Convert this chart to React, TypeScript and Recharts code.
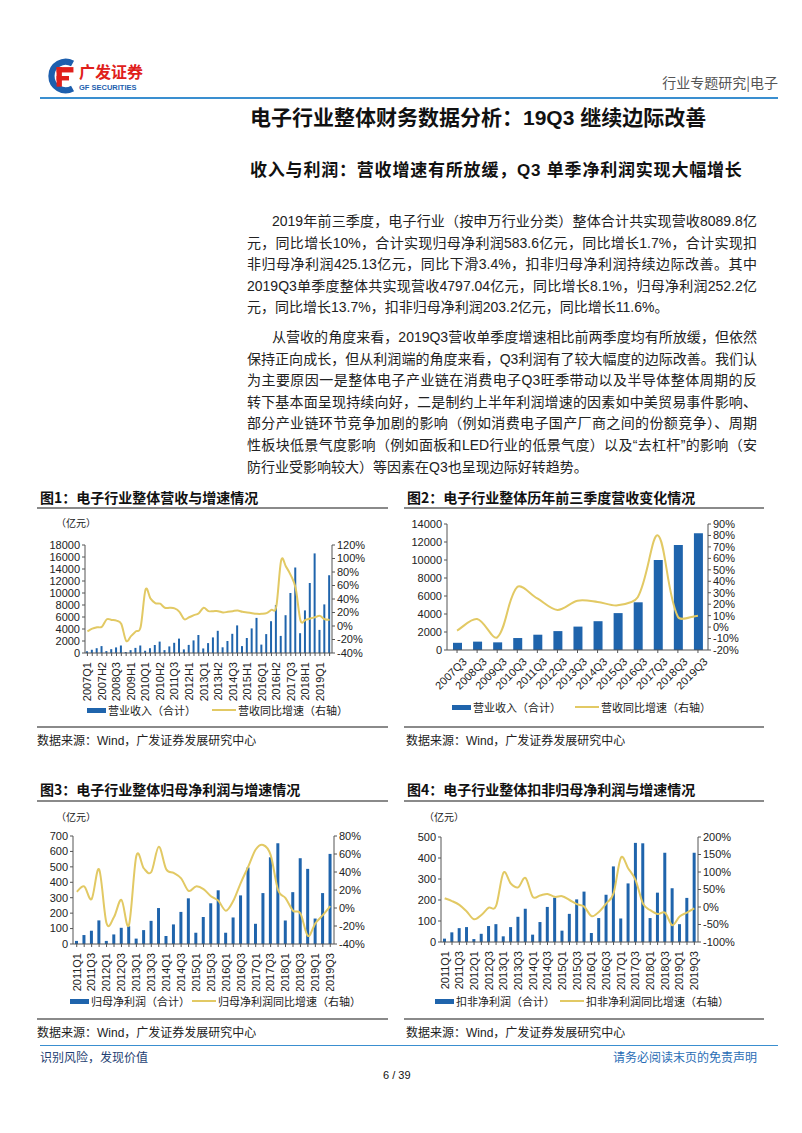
import React from "react";
import { ComposedChart, Bar, Line, XAxis, YAxis } from "recharts";

const NUM = '"Liberation Sans", Arial, "Noto Sans CJK SC", sans-serif';
const CJK = '"Noto Sans CJK SC", sans-serif';
const BLUE = "#1f64ac";
const GOLD = "#e2c964";
const AXIS = "#555";

// 图1 营业收入（亿元）与同比（%）
const revPeriods = [
  "2007Q1", "2007H1", "2007Q3", "2007H2", "2008Q1", "2008H1", "2008Q3", "2008H2",
  "2009Q1", "2009H1", "2009Q3", "2009H2", "2010Q1", "2010H1", "2010Q3", "2010H2",
  "2011Q1", "2011H1", "2011Q3", "2011H2", "2012Q1", "2012H1", "2012Q3", "2012H2",
  "2013Q1", "2013H1", "2013Q3", "2013H2", "2014Q1", "2014H1", "2014Q3", "2014H2",
  "2015Q1", "2015H1", "2015Q3", "2015H2", "2016Q1", "2016H1", "2016Q3", "2016H2",
  "2017Q1", "2017H1", "2017Q3", "2017H2", "2018Q1", "2018H1", "2018Q3", "2018H2",
  "2019Q1", "2019H1", "2019Q3",
];
const revValues = [
  280, 540, 800, 1150, 320, 640, 930, 1250, 170, 480, 850, 1250, 380, 800, 1330, 1900,
  480, 1100, 1700, 2400, 600, 1350, 2100, 3000, 760, 1650, 2600, 3700, 950, 2000, 3200, 4600,
  1150, 2500, 4100, 5850, 1400, 3150, 5300, 8000, 2850, 6300, 10000, 14250, 3300, 7100, 11670, 16600,
  3850, 8100, 12960,
];
const revYoy = [
  -8, -4, -2, -1, 10, 9, 8, 3, -22, -15, -8, -1, 54, 41, 34, 33,
  27, 27, 26, 21, 10, 13, 16, 19, 27, 22, 22, 22, 20, 21, 22, 23,
  21, 20, 19, 18, 18, 19, 24, 29, 97, 88, 75, 56, 8, 9, 11, 13,
  15, 10, 9,
];

// 图2 历年前三季度营收
const q3Periods = ["2007Q3", "2008Q3", "2009Q3", "2010Q3", "2011Q3", "2012Q3", "2013Q3", "2014Q3", "2015Q3", "2016Q3", "2017Q3", "2018Q3", "2019Q3"];
const q3Values = [800, 930, 850, 1330, 1700, 2100, 2600, 3200, 4100, 5300, 10000, 11670, 12960];
const q3Yoy = [-3, 7, -9, 35, 25, 15, 23, 22, 19, 26, 80, 9, 10];

// 图3 / 图4 季度
const quarters = [
  "2011Q1", "2011Q2", "2011Q3", "2011Q4", "2012Q1", "2012Q2", "2012Q3", "2012Q4",
  "2013Q1", "2013Q2", "2013Q3", "2013Q4", "2014Q1", "2014Q2", "2014Q3", "2014Q4",
  "2015Q1", "2015Q2", "2015Q3", "2015Q4", "2016Q1", "2016Q2", "2016Q3", "2016Q4",
  "2017Q1", "2017Q2", "2017Q3", "2017Q4", "2018Q1", "2018Q2", "2018Q3", "2018Q4",
  "2019Q1", "2019Q2", "2019Q3",
];
const npValues = [
  20, 58, 86, 153, 20, 62, 105, 115, 35, 90, 150, 233, 52, 127, 208, 296,
  73, 175, 264, 348, 73, 172, 315, 496, 131, 330, 562, 653, 153, 336, 556, 487,
  165, 330, 584,
];
const npYoy = [
  18, 24, 10, 43, -17, -10, 9, -19, 58, 44, 40, 68, 43, 39, 33, 19,
  24, 21, 13, 8, -3, 8, 28, 46, 65, 70, 59, 20, 11, -3, -6, -31,
  -17, -8, 2,
];
const dnpValues = [
  16, 46, 66, 71, 14, 39, 76, 85, 27, 71, 120, 158, 35, 95, 167, 211,
  54, 134, 203, 240, 43, 114, 225, 360, 112, 279, 472, 470, 114, 235, 425, 256,
  85, 210, 425,
];
const dnpYoy = [
  25, 17, 6, -13, -35, -23, -2, 3, 98, 67, 56, 83, 29, 33, 37, 29,
  31, 20, 8, 1, -26, -14, 10, 39, 141, 110, 77, 10, -9, -20, -16, -52,
  -27, -16, -4,
];

const rows = (cats: string[], v: number[], y: number[]) => cats.map((c, i) => ({ c, v: v[i], y: y[i] }));

// excel-like smoothed line (bezier through the points); weighted = tangents scaled by segment length
function makeSmooth(weighted: boolean) {
  return function (context: any) {
    let pts: number[][] = [];
    const dist = (a: number[], b: number[]) => Math.hypot(b[0] - a[0], b[1] - a[1]);
    return {
      areaStart() {},
      areaEnd() {},
      lineStart() { pts = []; },
      point(x: number, y: number) { pts.push([+x, +y]); },
      lineEnd() {
        if (!pts.length) return;
        context.moveTo(pts[0][0], pts[0][1]);
        for (let i = 0; i < pts.length - 1; i++) {
          const p0 = pts[i - 1] || pts[i];
          const p1 = pts[i];
          const p2 = pts[i + 1];
          const p3 = pts[i + 2] || p2;
          let a = 1 / 6, b = 1 / 6;
          if (weighted) {
            const d01 = dist(p0, p1), d12 = dist(p1, p2), d23 = dist(p2, p3);
            a = d01 + d12 > 0 ? d12 / (d01 + d12) / 3 : 0;
            b = d12 + d23 > 0 ? d12 / (d12 + d23) / 3 : 0;
          }
          context.bezierCurveTo(
            p1[0] + (p2[0] - p0[0]) * a, p1[1] + (p2[1] - p0[1]) * a,
            p2[0] - (p3[0] - p1[0]) * b, p2[1] - (p3[1] - p1[1]) * b,
            p2[0], p2[1]
          );
        }
      },
    };
  };
}

function VTick(props: any) {
  const { x, y, payload, index, every } = props;
  if (index % every !== 0) return null;
  return (
    <text x={x} y={y + 4} transform={`rotate(-90, ${x}, ${y + 4})`} textAnchor="end" dy="0.35em" fontSize={11} fill="#222" fontFamily={NUM}>
      {payload.value}
    </text>
  );
}

function DTick(props: any) {
  const { x, y, payload } = props;
  return (
    <text x={x + 5} y={y + 2} transform={`rotate(-45, ${x + 5}, ${y + 2})`} textAnchor="end" dy="0.7em" fontSize={11} fill="#222" fontFamily={NUM}>
      {payload.value}
    </text>
  );
}

const tickStyle = { fontSize: 11, fill: "#222", fontFamily: NUM };
const pct = (v: number) => `${v}%`;

function T({ x, y, size = 12, bold = false, color = "#222", children, font = CJK, style = {} }: any) {
  return (
    <div style={{ position: "absolute", left: x, top: y - size / 2 - 1, fontSize: size, lineHeight: `${size + 2}px`, fontWeight: bold ? 700 : 400, color, whiteSpace: "nowrap", fontFamily: font, ...style }}>
      {children}
    </div>
  );
}

function HLine({ x1, x2, y, color = "#8a8a8a", w = 1.5 }: any) {
  return <div style={{ position: "absolute", left: x1, top: y, width: x2 - x1, height: w, background: color }} />;
}

function LegendRow({ y, barX, barText, lineX, lineText }: any) {
  return (
    <>
      <div style={{ position: "absolute", left: barX, top: y - 2, width: 19, height: 5, background: BLUE }} />
      <T x={barX + 21} y={y} size={11}>{barText}</T>
      <div style={{ position: "absolute", left: lineX, top: y - 1, width: 24, height: 2, background: GOLD }} />
      <T x={lineX + 26} y={y} size={11}>{lineText}</T>
    </>
  );
}

function Para({ lines, top }: { lines: string[]; top: number }) {
  return (
    <>
      {lines.map((l, i) => {
        const first = i === 0;
        const last = i === lines.length - 1;
        return (
          <div key={i} style={{ position: "absolute", left: first ? 272 : 247, top: top + i * 21.6 - 10, width: first ? 485 : 510, fontSize: 14, lineHeight: "20px", fontFamily: NUM, color: "#222", textAlign: "justify", textAlignLast: last ? "left" : "justify", whiteSpace: "nowrap" as any }}>
            {l}
          </div>
        );
      })}
    </>
  );
}

const para1 = [
  "2019年前三季度，电子行业（按申万行业分类）整体合计共实现营收8089.8亿",
  "元，同比增长10%，合计实现归母净利润583.6亿元，同比增长1.7%，合计实现扣",
  "非归母净利润425.13亿元，同比下滑3.4%，扣非归母净利润持续边际改善。其中",
  "2019Q3单季度整体共实现营收4797.04亿元，同比增长8.1%，归母净利润252.2亿",
  "元，同比增长13.7%，扣非归母净利润203.2亿元，同比增长11.6%。",
];
const para2 = [
  "从营收的角度来看，2019Q3营收单季度增速相比前两季度均有所放缓，但依然",
  "保持正向成长，但从利润端的角度来看，Q3利润有了较大幅度的边际改善。我们认",
  "为主要原因一是整体电子产业链在消费电子Q3旺季带动以及半导体整体周期的反",
  "转下基本面呈现持续向好，二是制约上半年利润增速的因素如中美贸易事件影响、",
  "部分产业链环节竞争加剧的影响（例如消费电子国产厂商之间的份额竞争）、周期",
  "性板块低景气度影响（例如面板和LED行业的低景气度）以及“去杠杆”的影响（安",
  "防行业受影响较大）等因素在Q3也呈现边际好转趋势。",
];

function DualChart({ left, top, width, height, data, lw, rw, xh, every, ld, lt, rd, rt, barSize, rotate45, weighted = false }: any) {
  return (
    <div style={{ position: "absolute", left, top }}>
      <ComposedChart width={width} height={height} data={data} margin={{ top: 10, right: 0, bottom: 0, left: 0 }} barCategoryGap="0%">
        <XAxis
          dataKey="c"
          interval={0}
          height={xh}
          tickSize={3}
          axisLine={{ stroke: AXIS }}
          tickLine={{ stroke: AXIS }}
          tick={rotate45 ? (p: any) => <DTick {...p} /> : (p: any) => <VTick {...p} every={every} />}
        />
        <YAxis yAxisId="l" orientation="left" width={lw} domain={ld} ticks={lt} interval={0} tickSize={3} axisLine={{ stroke: AXIS }} tickLine={{ stroke: AXIS }} tick={tickStyle} />
        <YAxis yAxisId="r" orientation="right" width={rw} domain={rd} ticks={rt} interval={0} tickSize={3} axisLine={{ stroke: AXIS }} tickLine={{ stroke: AXIS }} tick={tickStyle} tickFormatter={pct} />
        <Bar yAxisId="l" dataKey="v" fill={BLUE} barSize={barSize} isAnimationActive={false} />
        <Line yAxisId="r" dataKey="y" type={makeSmooth(weighted) as any} stroke={GOLD} strokeWidth={2} dot={false} isAnimationActive={false} />
      </ComposedChart>
    </div>
  );
}

export default function App() {
  return (
    <div style={{ position: "absolute", left: 0, top: 0, width: 802, height: 1133, background: "#fff", overflow: "hidden" }}>
      {/* header */}
      <svg style={{ position: "absolute", left: 45, top: 56 }} width={32} height={40} viewBox="0 0 36 42">
        <path d="M31 7 A16 16 0 1 0 31 35" stroke="#1d5fae" strokeWidth={7} fill="none" />
        <rect x={13} y={11} width={19} height={6} fill="#e0201b" />
        <rect x={13} y={11} width={6} height={22} fill="#e0201b" />
        <rect x={13} y={21} width={14} height={5} fill="#e0201b" />
      </svg>
      <T x={79} y={71} size={16} bold color="#e0201b">广发证券</T>
      <T x={79} y={88} size={7.5} bold color="#1d5fae" font={NUM}>GF SECURITIES</T>
      <div style={{ position: "absolute", right: 24, top: 74, fontSize: 14, lineHeight: "16px", color: "#555", fontFamily: CJK }}>行业专题研究|电子</div>
      <HLine x1={40} x2={778} y={97} color="#3a8fd0" w={2} />

      <T x={250} y={117} size={21} bold color="#111" font={NUM}>电子行业整体财务数据分析：19Q3 继续边际改善</T>
      <T x={250} y={170} size={17} bold color="#111" font={NUM} style={{ letterSpacing: 0.8 }}>收入与利润：营收增速有所放缓，Q3 单季净利润实现大幅增长</T>

      <Para lines={para1} top={221} />
      <Para lines={para2} top={337} />

      {/* 图1 */}
      <T x={40} y={497} size={14} bold color="#111">图1：电子行业整体营收与增速情况</T>
      <HLine x1={37} x2={388} y={507} />
      <T x={56} y={523} size={10}>（亿元）</T>
      <DualChart left={28} top={535} width={350} height={170} data={rows(revPeriods, revValues, revYoy)}
        lw={57} rw={46} xh={52} every={3} ld={[0, 18000]} lt={[0, 2000, 4000, 6000, 8000, 10000, 12000, 14000, 16000, 18000]}
        rd={[-40, 120]} rt={[-40, -20, 0, 20, 40, 60, 80, 100, 120]} barSize={2} />
      <LegendRow y={710} barX={87} barText="营业收入（合计）" lineX={212} lineText="营收同比增速（右轴）" />
      <HLine x1={37} x2={388} y={726} />
      <T x={37} y={741} size={12} font={NUM}>数据来源：Wind，广发证券发展研究中心</T>

      {/* 图2 */}
      <T x={407} y={497} size={14} bold color="#111">图2：电子行业整体历年前三季度营收变化情况</T>
      <HLine x1={404} x2={764} y={507} />
      <DualChart left={395} top={514} width={355} height={180} data={rows(q3Periods, q3Values, q3Yoy)}
        lw={52} rw={42} xh={44} every={1} rotate45 weighted ld={[0, 14000]} lt={[0, 2000, 4000, 6000, 8000, 10000, 12000, 14000]}
        rd={[-20, 90]} rt={[-20, -10, 0, 10, 20, 30, 40, 50, 60, 70, 80, 90]} barSize={9} />
      <LegendRow y={707} barX={452} barText="营业收入（合计）" lineX={575} lineText="营收同比增速（右轴）" />
      <HLine x1={404} x2={764} y={726} />
      <T x={406} y={741} size={12} font={NUM}>数据来源：Wind，广发证券发展研究中心</T>

      {/* 图3 */}
      <T x={40} y={789} size={14} bold color="#111">图3：电子行业整体归母净利润与增速情况</T>
      <HLine x1={37} x2={388} y={800} />
      <T x={56} y={817} size={10}>（亿元）</T>
      <DualChart left={28} top={826} width={350} height={165} data={rows(quarters, npValues, npYoy)}
        lw={45} rw={44} xh={47} every={2} ld={[0, 700]} lt={[0, 100, 200, 300, 400, 500, 600, 700]}
        rd={[-40, 80]} rt={[-40, -20, 0, 20, 40, 60, 80]} barSize={3} />
      <LegendRow y={1001} barX={70} barText="归母净利润（合计）" lineX={192} lineText="归母净利润同比增速（右轴）" />
      <HLine x1={37} x2={388} y={1018} />
      <T x={37} y={1033} size={12} font={NUM}>数据来源：Wind，广发证券发展研究中心</T>

      {/* 图4 */}
      <T x={407} y={789} size={14} bold color="#111">图4：电子行业整体扣非归母净利润与增速情况</T>
      <HLine x1={404} x2={764} y={800} />
      <T x={424} y={817} size={10}>（亿元）</T>
      <DualChart left={398} top={827} width={352} height={165} data={rows(quarters, dnpValues, dnpYoy)}
        lw={43} rw={52} xh={50} every={2} ld={[0, 500]} lt={[0, 100, 200, 300, 400, 500]}
        rd={[-100, 200]} rt={[-100, -50, 0, 50, 100, 150, 200]} barSize={3} />
      <LegendRow y={1001} barX={435} barText="扣非净利润（合计）" lineX={560} lineText="扣非净利润同比增速（右轴）" />
      <HLine x1={404} x2={764} y={1018} />
      <T x={406} y={1033} size={12} font={NUM}>数据来源：Wind，广发证券发展研究中心</T>

      {/* footer */}
      <HLine x1={40} x2={778} y={1045} color="#3a8fd0" w={1} />
      <T x={40} y={1057} size={12} color="#1f3f73">识别风险，发现价值</T>
      <div style={{ position: "absolute", right: 45, top: 1050, fontSize: 12, lineHeight: "14px", color: "#2a6db5", fontFamily: CJK }}>请务必阅读末页的免责声明</div>
      <T x={383} y={1075} size={11} font={NUM} color="#111">6 / 39</T>
    </div>
  );
}
